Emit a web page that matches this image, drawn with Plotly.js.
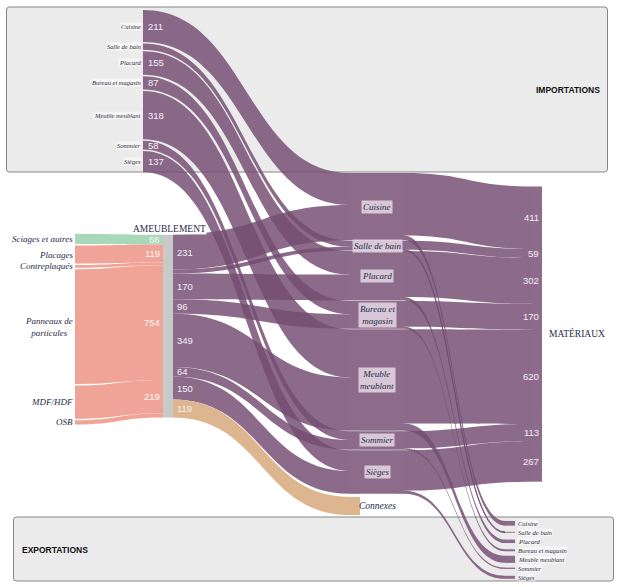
<!DOCTYPE html>
<html><head><meta charset="utf-8">
<script src="https://cdn.plot.ly/plotly-3.0.1.min.js"></script>
<style>html,body{margin:0;padding:0;background:#fff}#chart{width:621px;height:587px}</style>
</head><body><div id="chart"></div>
<script>
const W = 621, H = 587;

// ---------------- data ----------------
const products = ['Cuisine', 'Salle de bain', 'Placard', 'Bureau et magasin', 'Meuble meublant', 'Sommier', 'Sièges'];
const productLabels = ['Cuisine', 'Salle de bain', 'Placard', 'Bureau et<br>magasin', 'Meuble<br>meublant', 'Sommier', 'Sièges'];
const importValues = [211, 40, 155, 87, 318, 58, 137];
const materials = ['Sciages et autres', 'Placages', 'Contreplaqués', 'Panneaux de particules', 'MDF/HDF', 'OSB'];
const materialLabels = ['Sciages et autres', 'Placages', 'Contreplaqués', 'Panneaux de<br>particules', 'MDF/HDF', 'OSB'];
const materialValues = [66, 119, 18, 754, 219, 28];
const domesticValues = [231, 25, 170, 96, 349, 64, 150];
const connexesValue = 119;
const consumptionValues = [411, 59, 302, 170, 620, 113, 267];
const exportValues = [31, 6, 23, 13, 47, 9, 20];
const hubLabel = 'AMEUBLEMENT';
const sinkLabel = 'MATÉRIAUX';
const connexesLabel = 'Connexes';

// ---------------- layout helpers ----------------
const KY = 0.152;          // px per unit
const THICK = 10;
const sum = a => a.reduce((s, v) => s + v, 0);
function stack(vals, top, gap) {
  const c = []; let y = top;
  vals.forEach(v => { const h = v * KY; c.push(y + h / 2); y += h + gap; });
  return c;
}
const totals = products.map((_, i) => importValues[i] + domesticValues[i]);
const col0Sum = sum(importValues) + sum(materialValues);
const col0Count = products.length + materials.length;
const PAD = (H - KY * col0Sum) / (col0Count - 1);

const X = {imp: 138, mat: 70, hub: 168, pa: 355, pb: 399, sink: 537, exp: 510, conn: 355};
const impY = stack(importValues, 10, 1.5);
const matY = stack(materialValues, 234, 1.5);
const hubTop = 234.5;
const hubTotal = sum(materialValues);
const hubY = hubTop + hubTotal * KY / 2;
const prodY = stack(totals, 173, 0.5);
const connY = 506;
const sinkTop = 186.5;
const sinkY = sinkTop + sum(consumptionValues) * KY / 2;
const expY = products.map((_, i) => 523.3 + i * 9);

// colours
const purpleLink = 'rgba(116,77,113,0.83)';
const purpleNode = 'rgb(140,108,138)';
const salmon = 'rgba(239,161,149,0.97)';
const green = 'rgb(168,216,186)';
const tan = 'rgb(221,182,143)';
const grey = 'rgb(201,201,201)';
const clear = 'rgba(0,0,0,0)';

// ---------------- nodes ----------------
const nx = [], ny = [], ncol = [], nname = [];
function addNode(name, x, y, col) {
  nname.push(name); nx.push(x / W); ny.push(y / H); ncol.push(col); return nname.length - 1;
}
const impIdx = products.map((p, i) => addNode(p, X.imp, impY[i], clear));
const matIdx = materials.map((m, i) => addNode(m, X.mat, matY[i], clear));
const hubIdx = addNode(hubLabel, X.hub, hubY, grey);
const paIdx = products.map((p, i) => addNode(p, X.pa, prodY[i], purpleNode));
const pbIdx = products.map((p, i) => addNode(p, X.pb, prodY[i], purpleNode));
const connIdx = addNode(connexesLabel, X.conn, connY, tan);
const sinkIdx = addNode(sinkLabel, X.sink, sinkY, purpleNode);
const expIdx = products.map((p, i) => addNode(p, X.exp, expY[i], purpleNode));

// ---------------- links ----------------
const src = [], tgt = [], val = [], lcol = [];
function link(s, t, v, c) { src.push(s); tgt.push(t); val.push(v); lcol.push(c); }
products.forEach((_, i) => link(impIdx[i], paIdx[i], importValues[i], purpleLink));
materials.forEach((_, j) => link(matIdx[j], hubIdx, materialValues[j], j === 0 ? green : salmon));
products.forEach((_, i) => link(hubIdx, paIdx[i], domesticValues[i], purpleLink));
link(hubIdx, connIdx, connexesValue, tan);
products.forEach((_, i) => link(paIdx[i], pbIdx[i], totals[i], purpleNode));
products.forEach((_, i) => link(pbIdx[i], sinkIdx, consumptionValues[i], purpleLink));
products.forEach((_, i) => link(pbIdx[i], expIdx[i], exportValues[i], purpleLink));

const trace = {
  type: 'sankey', arrangement: 'fixed', domain: {x: [0, 1], y: [0, 1]},
  hoverinfo: 'none',
  node: {label: nname.map(() => ''), customdata: nname, x: nx, y: ny, color: ncol,
         thickness: THICK, pad: PAD, line: {color: clear, width: 0}},
  link: {source: src, target: tgt, value: val, color: lcol, line: {width: 0, color: clear}}
};

// ---------------- annotations ----------------
const SERIF = 'Liberation Serif', SANS = 'Liberation Sans';
const navy = '#1f2a48';
const numCol = '#f6eff6';
const anns = [];
function ann(text, x, y, o) {
  anns.push(Object.assign({xref: 'paper', yref: 'paper', x: x / W, y: 1 - y / H, text: text,
    showarrow: false, xanchor: 'center', yanchor: 'middle', borderpad: 1}, o));
}
const SHOW = 50;
// imports
products.forEach((p, i) => {
  ann('<i>' + p + '</i>', 142, impY[i], {xanchor: 'right', font: {family: SERIF, size: 6.5, color: '#2e2a3a'}, bgcolor: 'rgba(255,255,255,0.55)', borderpad: 0});
  if (importValues[i] >= SHOW) ann(String(importValues[i]), 146, impY[i], {xanchor: 'left', font: {family: SANS, size: 9.5, color: numCol}});
});
// materials
let acc = hubTop;
materials.forEach((m, j) => {
  ann('<i>' + materialLabels[j] + '</i>', 74, matY[j], {xanchor: 'right', font: {family: SERIF, size: 9, color: navy}, borderpad: 0});
  const h = materialValues[j] * KY;
  if (materialValues[j] >= SHOW) ann(String(materialValues[j]), 162, acc + h / 2, {xanchor: 'right', font: {family: SANS, size: 9.5, color: '#fff6f3'}});
  acc += h;
});
ann(hubLabel, 169, 229, {font: {family: SERIF, size: 9.5, color: navy}, bgcolor: 'rgba(255,255,255,0.9)', borderpad: 0});
// hub outflows
acc = hubTop;
domesticValues.concat([connexesValue]).forEach(v => {
  const h = v * KY;
  if (v >= SHOW) ann(String(v), 175, acc + h / 2, {xanchor: 'left', font: {family: SANS, size: 9.5, color: numCol}});
  acc += h;
});
// products
products.forEach((p, i) => {
  ann('<i>' + productLabels[i] + '</i>', 377, prodY[i], {font: {family: SERIF, size: 9, color: navy}, bgcolor: 'rgba(222,208,221,0.92)', borderpad: 1});
});
ann('<i>' + connexesLabel + '</i>', 357, connY, {xanchor: 'left', font: {family: SERIF, size: 9.5, color: navy}});
// consumption
acc = sinkTop;
consumptionValues.forEach(v => {
  const h = v * KY;
  ann(String(v), 541, acc + h / 2, {xanchor: 'right', font: {family: SANS, size: 9.5, color: numCol}});
  acc += h;
});
ann(sinkLabel, 547, 333, {xanchor: 'left', font: {family: SERIF, size: 9.5, color: navy}});
// exports
products.forEach((p, i) => {
  ann('<i>' + p + '</i>', 517, expY[i], {xanchor: 'left', font: {family: SERIF, size: 6.5, color: '#2e2a3a'}, bgcolor: 'rgba(255,255,255,0.55)', borderpad: 0});
});
ann('<b>IMPORTATIONS</b>', 602, 90, {xanchor: 'right', font: {family: SANS, size: 8.5, color: '#111'}});
ann('<b>EXPORTATIONS</b>', 20, 550, {xanchor: 'left', font: {family: SANS, size: 8.5, color: '#111'}});

// ---------------- boxes ----------------
function roundRect(x0, y0, x1, y1, r) {
  const px = x => (x / W).toFixed(5), py = y => (1 - y / H).toFixed(5);
  return 'M' + px(x0 + r) + ',' + py(y0) + ' L' + px(x1 - r) + ',' + py(y0) +
    ' Q' + px(x1) + ',' + py(y0) + ' ' + px(x1) + ',' + py(y0 + r) +
    ' L' + px(x1) + ',' + py(y1 - r) + ' Q' + px(x1) + ',' + py(y1) + ' ' + px(x1 - r) + ',' + py(y1) +
    ' L' + px(x0 + r) + ',' + py(y1) + ' Q' + px(x0) + ',' + py(y1) + ' ' + px(x0) + ',' + py(y1 - r) +
    ' L' + px(x0) + ',' + py(y0 + r) + ' Q' + px(x0) + ',' + py(y0) + ' ' + px(x0 + r) + ',' + py(y0) + ' Z';
}
const boxStyle = {type: 'path', xref: 'paper', yref: 'paper', layer: 'below', fillcolor: '#ebebeb', line: {color: '#858585', width: 1}};
const shapes = [
  Object.assign({path: roundRect(6.5, 7, 607.5, 172, 3)}, boxStyle),
  Object.assign({path: roundRect(13.5, 517, 613.5, 581, 3)}, boxStyle)
];

const layout = {width: W, height: H, margin: {l: 0, r: 0, t: 0, b: 0, pad: 0},
  paper_bgcolor: '#fff', plot_bgcolor: '#fff', showlegend: false,
  font: {family: SERIF, size: 9, color: navy}, annotations: anns, shapes: shapes};

Plotly.newPlot('chart', [trace], layout, {staticPlot: true, displayModeBar: false}).then(gd => {
  const svg = gd.querySelector('svg.main-svg');
  const info = svg && svg.querySelector('g.infolayer');
  if (info) svg.appendChild(info);
});
</script></body></html>
